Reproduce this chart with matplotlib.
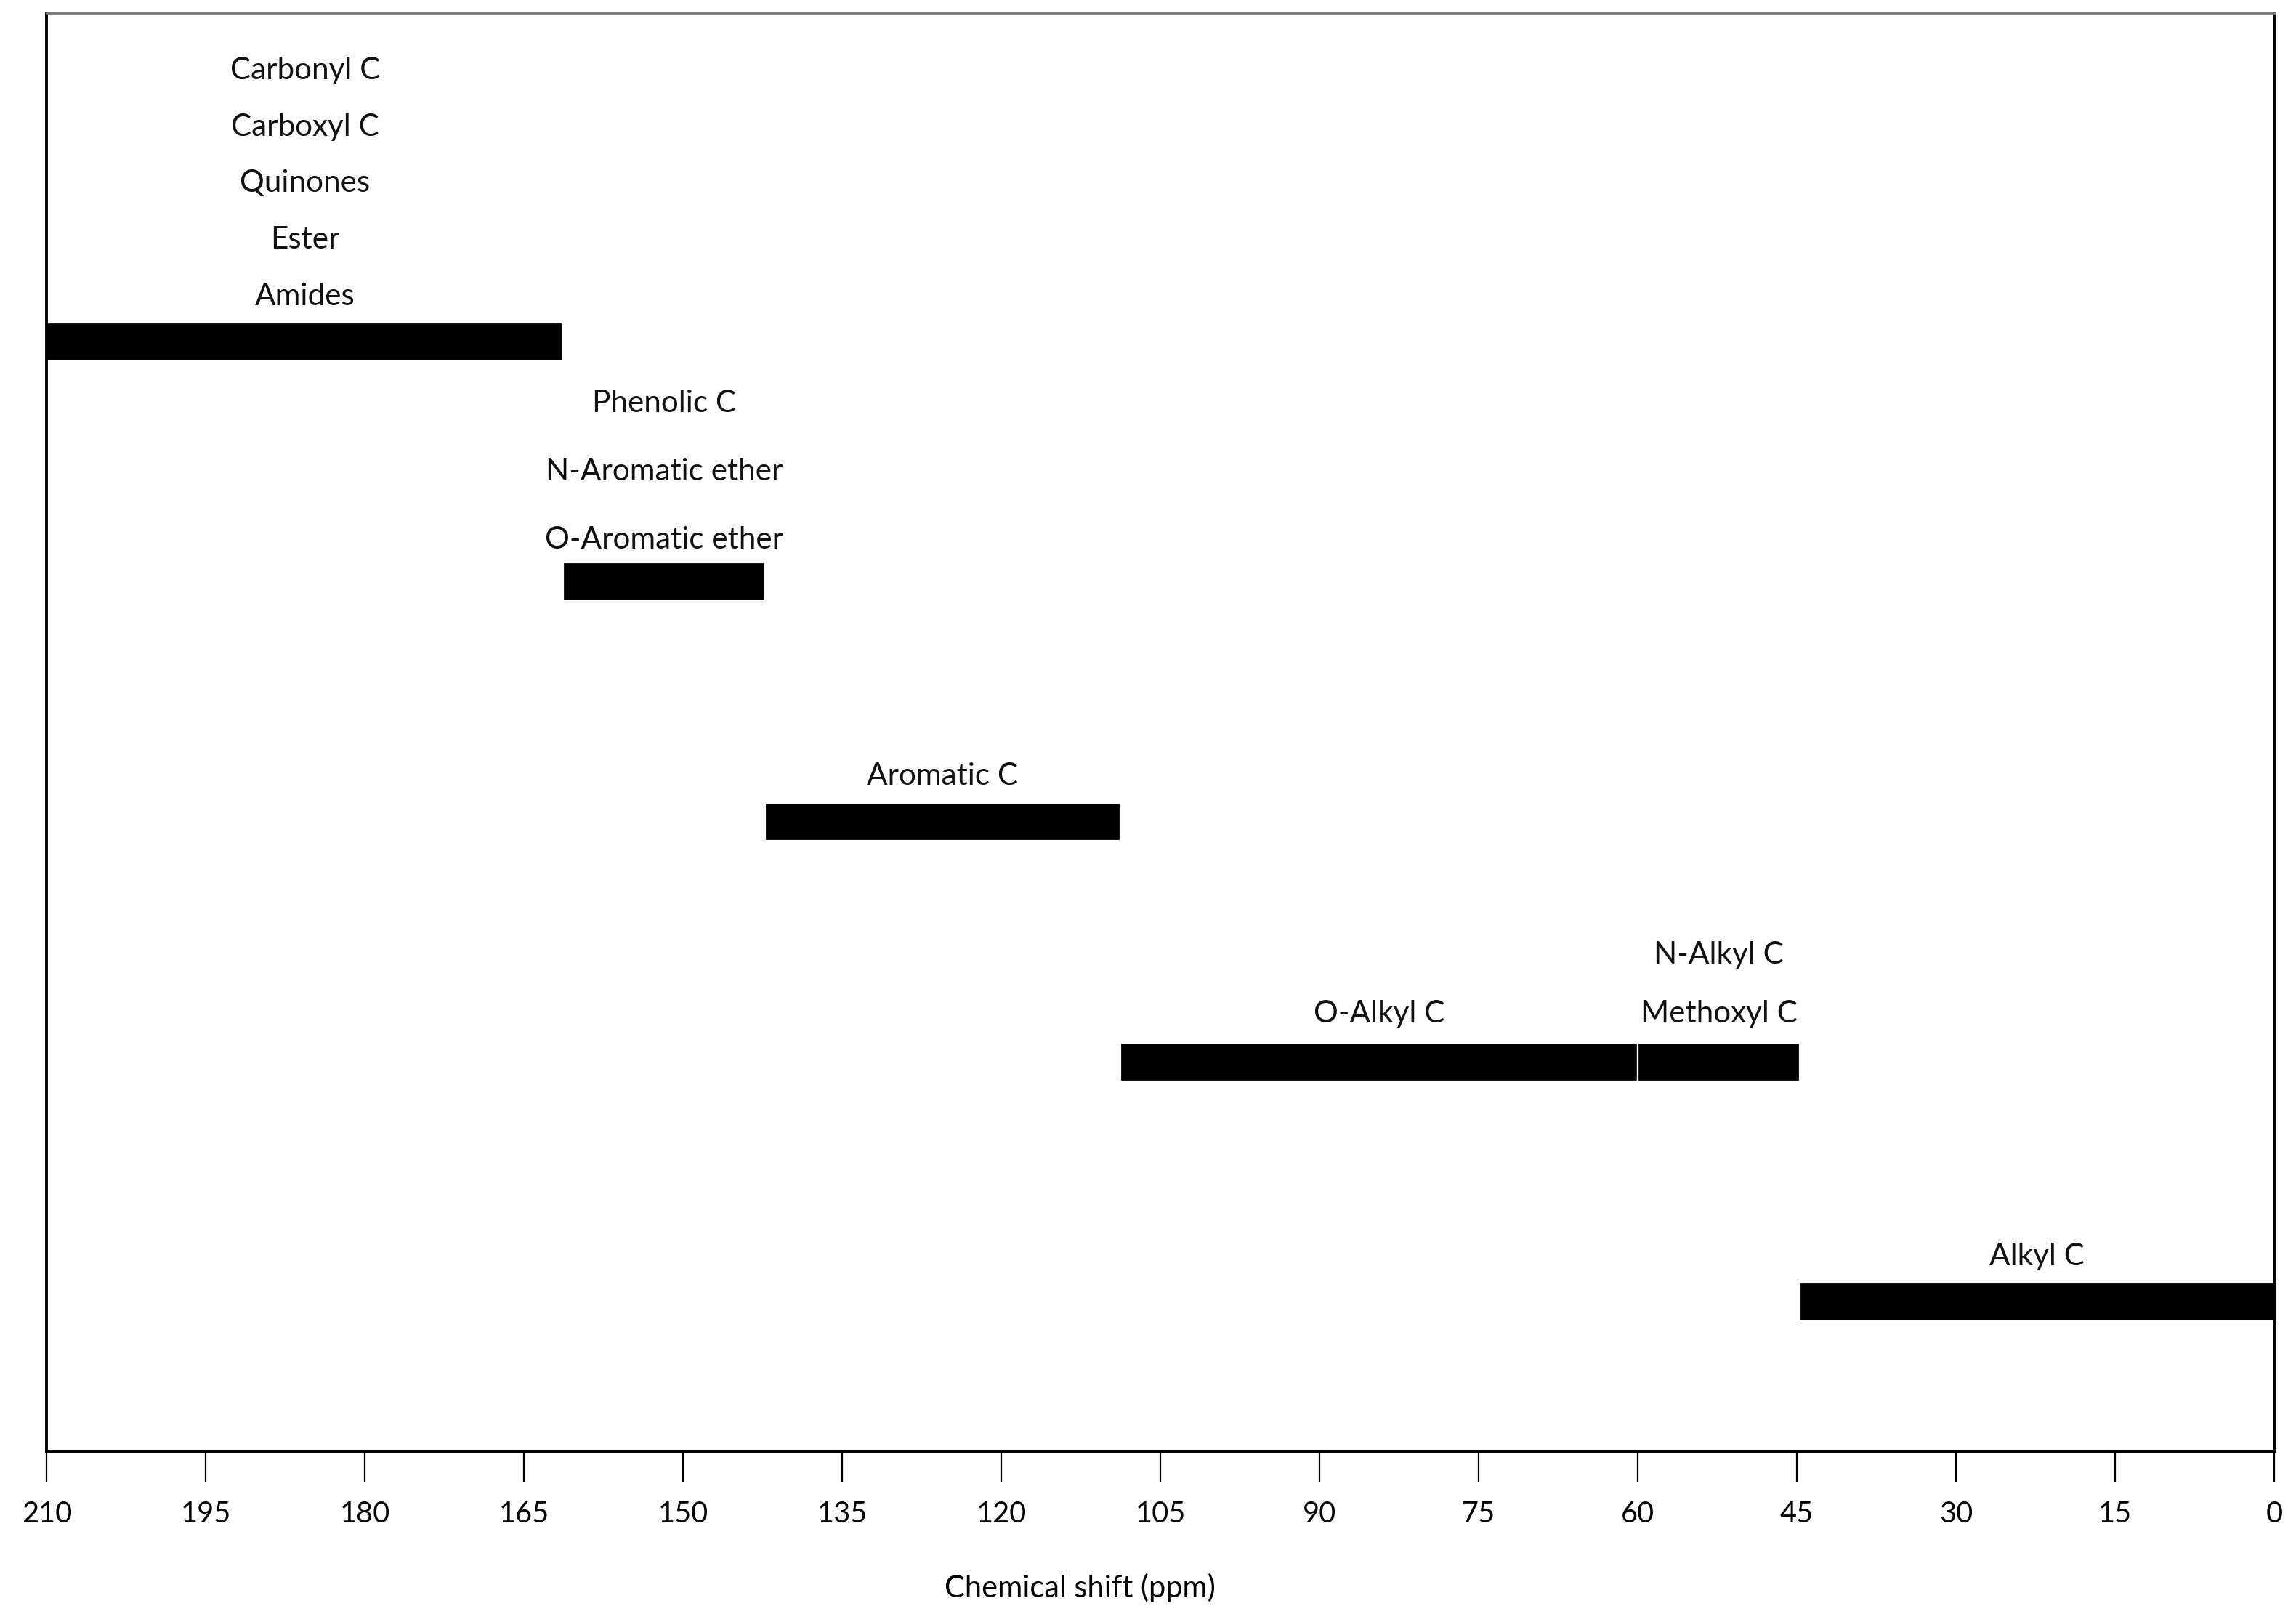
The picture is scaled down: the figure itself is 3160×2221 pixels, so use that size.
import matplotlib
matplotlib.use('Agg')
import matplotlib.pyplot as plt

plt.rcParams['font.family'] = ['Lato', 'DejaVu Sans']

# chemical shift bands (ppm), drawn from high to low shift
band_high = [210, 161.3, 142.3, 108.8, 60, 44.7]
band_low = [161.3, 142.3, 108.8, 60, 44.7, 0]
band_row = [5, 4, 3, 2, 2, 1]

# labels above each band, listed top to bottom
band_labels = [
    ['Carbonyl C', 'Carboxyl C', 'Quinones', 'Ester', 'Amides'],
    ['Phenolic C', 'N-Aromatic ether', 'O-Aromatic ether'],
    ['Aromatic C'],
    ['O-Alkyl C'],
    ['N-Alkyl C', 'Methoxyl C'],
    ['Alkyl C'],
]
first_off = [0.19, 0.175, 0.19, 0.2, 0.2, 0.19]
line_gap = [0.235, 0.285, 0.25, 0.25, 0.245, 0.25]

x_ticks = list(range(210, -1, -15))

fig = plt.figure(figsize=(15.8, 11.105), dpi=200)
ax = fig.add_axes([0.0204, 0.1009, 0.9701, 0.891])

widths = [h - l for h, l in zip(band_high, band_low)]
ax.barh(band_row, widths, left=band_low, height=0.16,
        color='black', edgecolor='white', linewidth=0.8)

for h, l, r, labels, off, gap in zip(band_high, band_low, band_row, band_labels,
                                     first_off, line_gap):
    xc = (h + l) / 2
    for i, txt in enumerate(reversed(labels)):
        ax.text(xc, r + off + i * gap, txt, ha='center', va='center',
                fontsize=15.2, color='#111111')

ax.set_xlim(210, 0)
ax.set_ylim(0.378, 6.37)
ax.set_yticks([])
ax.set_xticks(x_ticks)
ax.set_xticklabels([str(t) for t in x_ticks])
ax.tick_params(axis='x', direction='out', length=15.5, width=0.8,
               pad=9, labelsize=14.3, colors='black')

ax.spines['bottom'].set_linewidth(1.8)
ax.spines['left'].set_linewidth(1.4)
ax.spines['top'].set_linewidth(1.0)
ax.spines['top'].set_color('#777777')
ax.spines['right'].set_linewidth(1.1)

ax.set_xlabel('Chemical shift (ppm)', fontsize=15)
ax.xaxis.set_label_coords(0.464, -0.085)

fig.savefig('out.png', dpi=200)
